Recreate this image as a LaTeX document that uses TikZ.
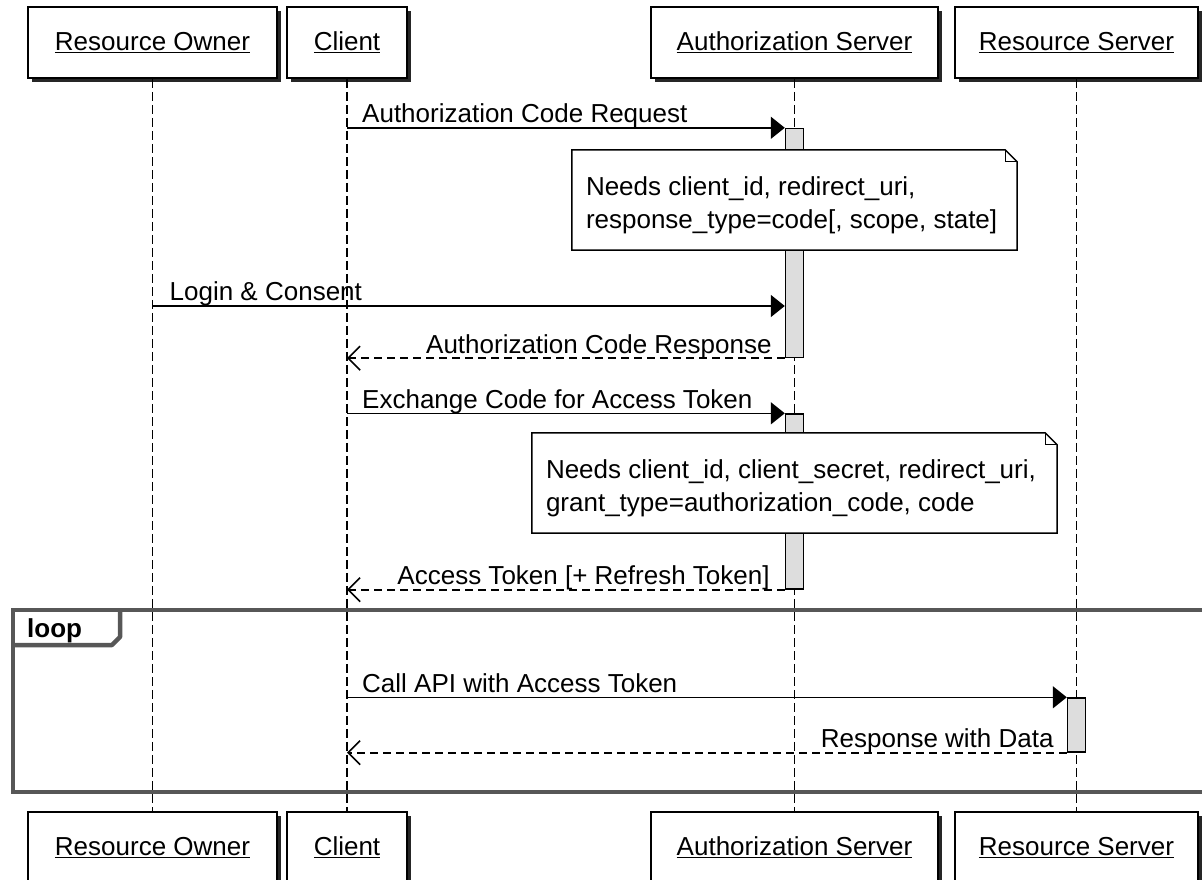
\documentclass[tikz,border=0pt]{standalone}
\usepackage{fontspec}
\setmainfont{Liberation Sans}
\usetikzlibrary{arrows.meta,shadows,calc}
\definecolor{framegray}{HTML}{575757}
\definecolor{actfill}{HTML}{DDDDDD}
\begin{document}
\begin{tikzpicture}[x=1pt,y=-1pt,
  font=\fontsize{26}{32}\selectfont,
  actor/.style={draw, line width=1.6pt, fill=white, minimum height=71pt, inner sep=0pt,
    drop shadow={shadow xshift=4pt, shadow yshift=-4pt, fill=black!85, opacity=1}},
  lifeline/.style={line width=1.6pt, dash pattern=on 9pt off 4pt},
  actbar/.style={draw, line width=1.4pt, fill=actfill, minimum width=18pt, inner sep=0pt},
  sync/.style={line width=1.6pt, -{Triangle[length=14pt,width=22pt]}},
  reply/.style={line width=1.6pt, dash pattern=on 8pt off 5pt, -{Straight Barb[length=12pt,width=24pt,line width=1.6pt]}},
  noteshape/.style={fill=white, inner sep=0pt},
  notetext/.style={inner sep=0pt, align=left, font=\fontsize{26}{33}\selectfont},
  noteline/.style={draw, line width=1.5pt, line join=miter},
  msglabel/.style={inner sep=0pt},
  frameline/.style={draw=framegray, line width=4.5pt}
]
\useasboundingbox (0,0) rectangle (1202,880);

% loop frame
\draw[frameline] (13,610) rectangle (1215,792);
\draw[frameline, line join=round] (13,645) -- (112,645) -- (120,637) -- (120,610);
\node[anchor=base west, inner sep=0pt, font=\fontsize{26}{32}\selectfont\bfseries] (looplbl) at (27,637) {loop};

% participants
\node[actor, minimum width=249pt] (roT) at (152.5,42.5) {\underline{Resource Owner}};
\node[actor, minimum width=120pt] (clT) at (347,42.5) {\underline{Client}};
\node[actor, minimum width=287pt] (asT) at (794.5,42.5) {\underline{Authorization Server}};
\node[actor, minimum width=243pt] (rsT) at (1076.5,42.5) {\underline{Resource Server}};
\node[actor, minimum width=249pt] (roB) at (152.5,847.5) {\underline{Resource Owner}};
\node[actor, minimum width=120pt] (clB) at (347,847.5) {\underline{Client}};
\node[actor, minimum width=287pt] (asB) at (794.5,847.5) {\underline{Authorization Server}};
\node[actor, minimum width=243pt] (rsB) at (1076.5,847.5) {\underline{Resource Server}};

% lifelines
\draw[lifeline] (roT.south) -- (roB.north);
\draw[lifeline] (clT.south) -- (clB.north);
\draw[lifeline] (asT.south) -- (asB.north);
\draw[lifeline] (rsT.south) -- (rsB.north);

% activation bars
\node[actbar, minimum height=229pt] (act1) at (794.5,243) {};
\node[actbar, minimum height=175pt] (act2) at (794.5,501.5) {};
\node[actbar, minimum height=54pt] (act3) at (1076.5,725) {};

% messages
\coordinate (c1) at (clT.south |- act1.north west);
\draw[sync] (c1) -- (act1.north west);
\node[msglabel, anchor=base west] (l1) at ($(c1)+(15,-5)$) {Authorization Code Request};

\coordinate (r2) at (roT.south |- 0,306);
\draw[sync] (r2) -- (act1.west |- r2);
\node[msglabel, anchor=base west] (l2) at ($(r2)+(17,-6)$) {Login \& Consent};

\coordinate (c3) at (clT.south |- act1.south west);
\draw[reply] (act1.south west) -- (c3);
\node[msglabel, anchor=base east] (l3) at ($(act1.south west)+(-13,-5)$) {Authorization Code Response};

\coordinate (c4) at (clT.south |- act2.north west);
\draw[sync] (c4) -- (act2.north west);
\node[msglabel, anchor=base west] (l4) at ($(c4)+(15,-5)$) {Exchange Code for Access Token};

\coordinate (c5) at (clT.south |- act2.south west);
\draw[reply] (act2.south west) -- (c5);
\node[msglabel, anchor=base east] (l5) at ($(act2.south west)+(-15,-5)$) {Access Token [+ Refresh Token]};

\coordinate (c6) at (clT.south |- act3.north west);
\draw[sync] (c6) -- (act3.north west);
\node[msglabel, anchor=base west] (l6) at ($(c6)+(15,-5)$) {Call API with Access Token};

\coordinate (c7) at (clT.south |- act3.south west);
\draw[reply] (act3.south west) -- (c7);
\node[msglabel, anchor=base east] (l7) at ($(act3.south west)+(-13,-5)$) {Response with Data};

% notes
\node[noteshape, minimum width=445pt, minimum height=100pt] (n1) at (794.5,200) {};
\draw[noteline] (n1.north west) -- ($(n1.north east)+(-12,0)$) -- ($(n1.north east)+(0,12)$)
  -- (n1.south east) -- (n1.south west) -- cycle;
\draw[line width=1.2pt] ($(n1.north east)+(-12,0)$) -- ($(n1.north east)+(-12,12)$) -- ($(n1.north east)+(0,12)$);
\node[notetext, anchor=west] (n1t) at ($(n1.west)+(14,5)$)
  {Needs client\_id, redirect\_uri,\\response\_type=code[, scope, state]};

\node[noteshape, minimum width=525pt, minimum height=100pt] (n2) at (794.5,483) {};
\draw[noteline] (n2.north west) -- ($(n2.north east)+(-12,0)$) -- ($(n2.north east)+(0,12)$)
  -- (n2.south east) -- (n2.south west) -- cycle;
\draw[line width=1.2pt] ($(n2.north east)+(-12,0)$) -- ($(n2.north east)+(-12,12)$) -- ($(n2.north east)+(0,12)$);
\node[notetext, anchor=west] (n2t) at ($(n2.west)+(14,5)$)
  {Needs client\_id, client\_secret, redirect\_uri,\\grant\_type=authorization\_code, code};
\end{tikzpicture}
\end{document}
